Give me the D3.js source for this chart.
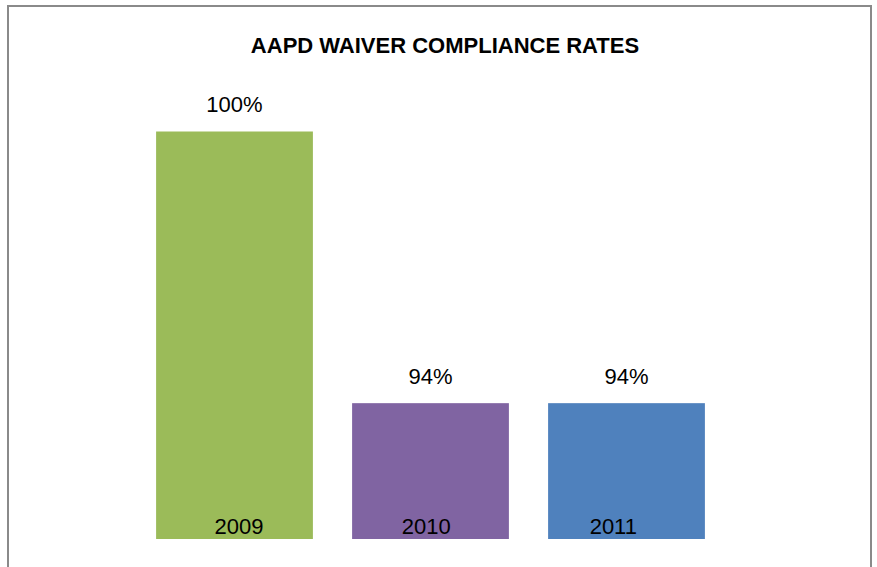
<!DOCTYPE html>
<html lang="en">
    <head>
        <meta charset="utf-8">
        <title>AAPD Waiver Compliance Rates</title>
        <script src="https://d3js.org/d3.v7.min.js"></script>
        <style>
            body { margin: 0; background: #fff; }
            text { font-family: "Liberation Sans", Arial, sans-serif; fill: #000; }
        </style>
    </head>
    <body>
        <div class="chart"></div>
        <script type="text/javascript">
            // chart data
            const years = ['2009', '2010', '2011'];
            const rates = [100, 94, 94];
            const barColors = ['#9BBB59', '#8064A2', '#4F81BD'];
            const title = 'AAPD WAIVER COMPLIANCE RATES';

            const width = 877;
            const height = 567;

            const data = years.map((y, i) => ({year: y, rate: rates[i], color: barColors[i]}));

            const svg = d3.select('.chart')
                .append('svg')
                .attr('width', width)
                .attr('height', height);

            // outer chart frame
            svg.append('rect')
                .attr('x', 8)
                .attr('y', 6)
                .attr('width', 863)
                .attr('height', 600)
                .attr('fill', '#fff')
                .attr('stroke', '#8a8a8a')
                .attr('stroke-width', 2);

            svg.append('text')
                .attr('x', 445)
                .attr('y', 53)
                .attr('text-anchor', 'middle')
                .style('font-size', '22px')
                .style('font-weight', 'bold')
                .text(title);

            const x = d3.scaleBand()
                .domain(years)
                .range([136.5, 724.5])
                .paddingInner(0.2)
                .paddingOuter(0.1);

            // value axis is hidden, its minimum sits at 91%
            const y = d3.scaleLinear()
                .domain([91, 100])
                .range([539, 131.5]);

            // category labels sit a little off the bar centres
            const labelX = d3.scalePoint()
                .domain(years)
                .range([239, 613.3]);

            svg.selectAll('rect.bar')
                .data(data)
                .enter()
                .append('rect')
                .attr('class', 'bar')
                .attr('x', d => x(d.year))
                .attr('y', d => y(d.rate))
                .attr('width', x.bandwidth())
                .attr('height', d => y(91) - y(d.rate))
                .attr('fill', d => d.color);

            svg.selectAll('text.value')
                .data(data)
                .enter()
                .append('text')
                .attr('class', 'value')
                .attr('x', d => x(d.year) + x.bandwidth() / 2)
                .attr('y', d => y(d.rate) - 19.5)
                .attr('text-anchor', 'middle')
                .style('font-size', '22px')
                .text(d => d.rate + '%');

            svg.selectAll('text.year')
                .data(data)
                .enter()
                .append('text')
                .attr('class', 'year')
                .attr('x', d => labelX(d.year))
                .attr('y', 534)
                .attr('text-anchor', 'middle')
                .style('font-size', '22px')
                .text(d => d.year);
        </script>
    </body>
</html>
